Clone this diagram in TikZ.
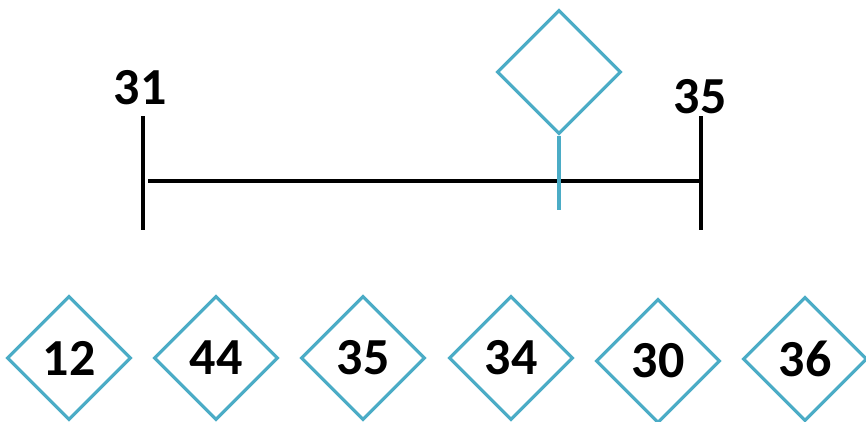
\documentclass[tikz,border=0pt]{standalone}
\usepackage{fontspec}
\setmainfont{Carlito}
\usetikzlibrary{shapes.geometric,positioning,calc}
\definecolor{tealline}{HTML}{4BACC6}
\definecolor{ink}{HTML}{000000}

\begin{document}
\begin{tikzpicture}[
    x=1pt, y=-1pt,
    card/.style={
      diamond, draw=tealline, line width=3.2pt, aspect=1,
      minimum width=124pt, minimum height=124pt, inner sep=0pt,
      text=ink, font=\fontsize{52}{54}\selectfont\bfseries
    },
    num/.style={text=ink, inner sep=0pt, font=\fontsize{52}{54}\selectfont\bfseries},
    tick/.style={draw=ink, line width=4.5pt}
  ]
  \useasboundingbox (0,0) rectangle (866,421);

  % number line with its two end marks
  \coordinate (lt) at (143,116);
  \coordinate (lb) at (143,230);
  \coordinate (rt) at (701,116);
  \coordinate (rb) at (701,230);
  \coordinate (ls) at (148,181);
  \coordinate (rs) at (701,181);
  \draw[tick] (lt) -- (lb);
  \draw[tick] (rt) -- (rb);
  \draw[tick] (ls) -- (rs);
  \node[num] (low) at (140,88) {31};
  \node[num] (high) at (700,97) {35};

  % empty card standing on the line
  \node[card] (pin) at (559,72) {};
  \coordinate (foot) at (559,210);
  \draw[draw=tealline, line width=4pt] (pin.south) -- (foot);

  % row of cards
  \node[card] (c1) at (69,358) {12};
  \node[card] (c2) at (216,358) {44};
  \node[card] (c3) at (363,358) {35};
  \node[card] (c4) at (511,358) {34};
  \node[card] (c5) at (658,361) {30};
  \node[card] (c6) at (805,359) {36};
\end{tikzpicture}
\end{document}
